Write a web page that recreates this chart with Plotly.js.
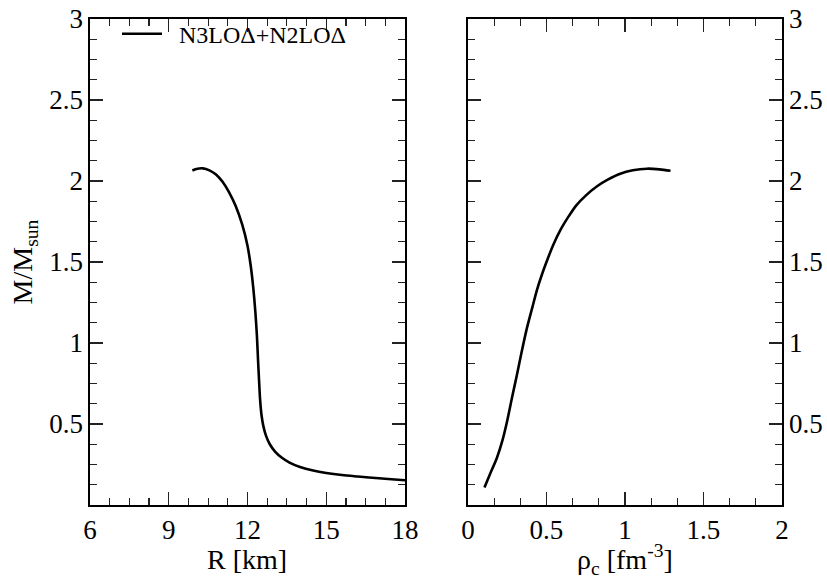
<!DOCTYPE html>
<html>
<head>
<meta charset="utf-8">
<script src="https://cdn.plot.ly/plotly-3.0.1.min.js"></script>
<style>html,body{margin:0;padding:0;background:#fff;}#chart{width:827px;height:583px;}</style>
</head>
<body>
<div id="chart"></div>
<script>
// Left panel: mass-radius relation
const radiusKm = [9.90, 10.05, 10.30, 10.55, 10.80, 11.05, 11.30, 11.55, 11.80, 12.00, 12.12, 12.22, 12.30, 12.36, 12.40, 12.44, 12.48, 12.53, 12.60, 12.70, 12.85, 13.05, 13.30, 13.60, 14.00, 14.50, 15.00, 15.60, 16.20, 17.00, 18.00, 18.50];
const massR    = [2.065, 2.074, 2.078, 2.066, 2.040, 1.995, 1.930, 1.845, 1.730, 1.600, 1.480, 1.340, 1.190, 1.040, 0.900, 0.770, 0.650, 0.560, 0.490, 0.430, 0.375, 0.330, 0.293, 0.262, 0.235, 0.213, 0.198, 0.185, 0.176, 0.165, 0.153, 0.148];
// Right panel: mass vs central density
const rhoC     = [0.105, 0.140, 0.184, 0.220, 0.250, 0.280, 0.311, 0.343, 0.375, 0.410, 0.440, 0.470, 0.500, 0.545, 0.590, 0.640, 0.690, 0.750, 0.820, 0.890, 0.970, 1.050, 1.140, 1.220, 1.290];
const massRho  = [0.108, 0.190, 0.290, 0.400, 0.520, 0.660, 0.800, 0.950, 1.090, 1.220, 1.330, 1.420, 1.500, 1.610, 1.700, 1.780, 1.850, 1.910, 1.966, 2.008, 2.045, 2.066, 2.076, 2.072, 2.063];
const seriesName = 'N3LOΔ+N2LOΔ';
const xTitleLeft = 'R [km]';
const xTitleRight = 'ρ<sub>c</sub> [fm<sup>-3</sup>]';
const yTitle = 'M/M<sub>sun</sub>';
const yTick0 = 0, yDtick = 0.5;
const xLeftTick0 = 6, xLeftDtick = 3;
const xRightTick0 = 0, xRightDtick = 0.5;

const FONT = 'Liberation Serif';
const lineStyle = {color: '#000', width: 2.6, shape: 'spline', smoothing: 0.8};

const traces = [
  {x: radiusKm, y: massR, mode: 'lines', name: '\u2002' + seriesName, line: lineStyle, xaxis: 'x', yaxis: 'y', showlegend: true},
  {x: rhoC, y: massRho, mode: 'lines', name: seriesName, line: lineStyle, xaxis: 'x2', yaxis: 'y2', showlegend: false}
];

function minorOpts(dt, t0) {
  return {dtick: dt, tick0: t0, ticklen: 7, tickwidth: 1.2, tickcolor: '#222', ticks: 'inside'};
}
const titleFont = {family: FONT, size: 28, color: '#000'};
const axisCommon = {
  showline: true, linecolor: '#000', linewidth: 1.6, mirror: 'allticks',
  ticks: 'inside', ticklen: 13, tickwidth: 1.2, tickcolor: '#222',
  showgrid: false, zeroline: false, tickmode: 'linear',
  tickfont: {family: FONT, size: 27, color: '#000'}
};

const layout = {
  width: 827, height: 583,
  margin: {l: 90, r: 45, t: 19, b: 78},
  paper_bgcolor: '#fff', plot_bgcolor: '#fff',
  font: {family: FONT, color: '#000'},
  showlegend: true,
  legend: {x: 0.039, y: 1.015, xanchor: 'left', yanchor: 'top', bgcolor: 'rgba(0,0,0,0)',
           font: {family: FONT, size: 24, color: '#000'}, itemwidth: 40},
  xaxis: Object.assign({}, axisCommon, {
    domain: [0, 0.4552], range: [6, 18], anchor: 'y',
    tick0: xLeftTick0, dtick: xLeftDtick,
    minor: minorOpts(0.75, 6)
  }),
  yaxis: Object.assign({}, axisCommon, {
    domain: [0, 1], range: [0, 3], anchor: 'x',
    tick0: yTick0, dtick: yDtick, labelalias: {'0': ' '},
    minor: minorOpts(0.125, 0),
    title: {text: yTitle, font: titleFont, standoff: 8}
  }),
  xaxis2: Object.assign({}, axisCommon, {
    domain: [0.5462, 1], range: [0, 2], anchor: 'y2',
    tick0: xRightTick0, dtick: xRightDtick,
    minor: minorOpts(0.5 / 3, 0)
  }),
  yaxis2: Object.assign({}, axisCommon, {
    domain: [0, 1], range: [0, 3], anchor: 'x2', side: 'right',
    tick0: yTick0, dtick: yDtick, labelalias: {'0': ' '},
    minor: minorOpts(0.125, 0)
  }),
  annotations: [
    {text: xTitleLeft, xref: 'x domain', yref: 'paper', x: 0.5, y: -0.113, xanchor: 'center', yanchor: 'middle',
     showarrow: false, font: titleFont},
    {text: xTitleRight, xref: 'x2 domain', yref: 'paper', x: 0.5, y: -0.113, xanchor: 'center', yanchor: 'middle',
     showarrow: false, font: titleFont}
  ]
};

Plotly.newPlot('chart', traces, layout, {displayModeBar: false, staticPlot: true});
</script>
</body>
</html>
